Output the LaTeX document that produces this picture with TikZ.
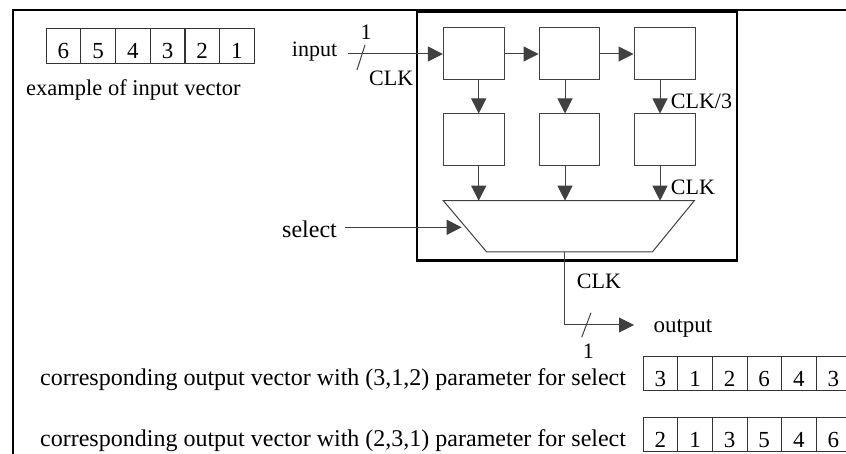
\documentclass[tikz,border=0pt]{standalone}
\usepackage{fontspec}
\setmainfont{Liberation Serif}
\usetikzlibrary{arrows.meta,calc}
\begin{document}
\begin{tikzpicture}[x=1pt,y=-1pt,
  every node/.style={font=\fontsize{22}{26}\selectfont},
  lbl/.style={inner sep=0pt,anchor=base west},
  cell/.style={draw=black!80,line width=0.8pt,minimum width=34.65pt,minimum height=34.6pt,inner sep=0pt,text height=30pt,text depth=3.6pt,anchor=north west,font=\fontsize{23}{27}\selectfont},
  reg/.style={draw=black!75,line width=1pt,inner sep=0pt},
  wire/.style={draw=black!75,line width=1pt},
  arr/.style={wire,-{Triangle[width=15pt,length=15pt]}},
  frame/.style={draw=black,line width=2pt},
  box/.style={draw=black,line width=2.6pt}]
\useasboundingbox (0,0) rectangle (846,454);
\clip (0,0) rectangle (846,454);
\fill[white] (0,0) rectangle (846,454);
% outer frame (right and bottom lie outside the picture)
\draw[frame] (12.5,10) rectangle (880,480);
% inner box
\draw[box] (417,11.3) rectangle (737,260.5);

% input vector
\foreach \v [count=\i] in {6,5,4,3,2,1}
  \node[cell] (in\i) at ({45.7+(\i-1)*34.7},28) {\v};
\node[lbl,font=\fontsize{22.5}{27}\selectfont] (exlbl) at (26,95.5) {example of input vector};

% registers
\node[reg,minimum width=60.7pt,minimum height=52pt] (r11) at (473.7,54) {};
\node[reg,minimum width=60.3pt,minimum height=52pt] (r12) at (569.2,54) {};
\node[reg,minimum width=61pt,minimum height=52pt] (r13) at (664.5,54) {};
\node[reg,minimum width=60.7pt,minimum height=52pt] (r21) at (473.7,140) {};
\node[reg,minimum width=60.3pt,minimum height=52pt] (r22) at (569.2,140) {};
\node[reg,minimum width=61pt,minimum height=52pt] (r23) at (664.5,140) {};

% multiplexer
\coordinate (mTL) at (443.3,200.7);
\coordinate (mTR) at (694.3,200.7);
\coordinate (mBR) at (652.3,252);
\coordinate (mBL) at (486.7,252);
\draw[wire] (mTL) -- (mTR) -- (mBR) -- (mBL) -- cycle;

% input
\coordinate (inS) at (347.7,54);
\node[lbl] (inlbl) at (291.7,56.7) {input};
\draw[arr] (inS) -- (r11.west);
\coordinate (sl1a) at (357,70);
\coordinate (sl1b) at (365,45);
\draw[wire] (sl1a) -- (sl1b);
\node[inner sep=0pt,anchor=base] (one1) at (366,40) {1};
\node[lbl] (clk1) at (369,85.7) {CLK};

% register chain
\draw[arr] (r11.east) -- (r12.west);
\draw[arr] (r12.east) -- (r13.west);
\draw[arr] ([xshift=5pt]r11.south) -- ([xshift=5pt]r21.north);
\draw[arr] ([xshift=-4.2pt]r12.south) -- ([xshift=-4.2pt]r22.north);
\draw[arr] ([xshift=-4.5pt]r13.south) -- ([xshift=-4.5pt]r23.north);
\draw[arr] ([xshift=5pt]r21.south) -- ([xshift=5pt]r21.south |- mTL);
\draw[arr] ([xshift=-4.2pt]r22.south) -- ([xshift=-4.2pt]r22.south |- mTL);
\draw[arr] ([xshift=-4.5pt]r23.south) -- ([xshift=-4.5pt]r23.south |- mTL);
\node[lbl] (clk3) at (670.7,108.3) {CLK/3};
\node[lbl] (clk2) at (670.7,195) {CLK};

% select
\node[lbl,font=\fontsize{24}{28}\selectfont] (sellbl) at (282,237.5) {select};
\coordinate (selS) at (345,227.3);
\coordinate (selT) at (461.7,227.3);
\draw[arr] (selS) -- (selT);

% output
\coordinate (mOut) at (564.7,252);
\coordinate (outT) at (634,325);
\draw[arr] (mOut) |- (outT);
\coordinate (sl2a) at (581.7,337.3);
\coordinate (sl2b) at (591,312.7);
\draw[wire] (sl2a) -- (sl2b);
\node[lbl] (clk4) at (576.7,289) {CLK};
\node[lbl,font=\fontsize{23}{27}\selectfont] (outlbl) at (653.3,332) {output};
\node[inner sep=0pt,anchor=base] (one2) at (588.3,358) {1};

% output vectors
\node[lbl,font=\fontsize{24}{28}\selectfont] (t1) at (40,385.5) {corresponding output vector with (3,1,2) parameter for select};
\node[lbl,font=\fontsize{24}{28}\selectfont] (t2) at (40,446.5) {corresponding output vector with (2,3,1) parameter for select};
\foreach \v [count=\i] in {3,1,2,6,4,3}
  \node[cell] (oa\i) at ({642.7+(\i-1)*34.6},355.7) {\v};
\foreach \v [count=\i] in {2,1,3,5,4,6}
  \node[cell] (ob\i) at ({642.7+(\i-1)*34.6},416.7) {\v};
\end{tikzpicture}
\end{document}
